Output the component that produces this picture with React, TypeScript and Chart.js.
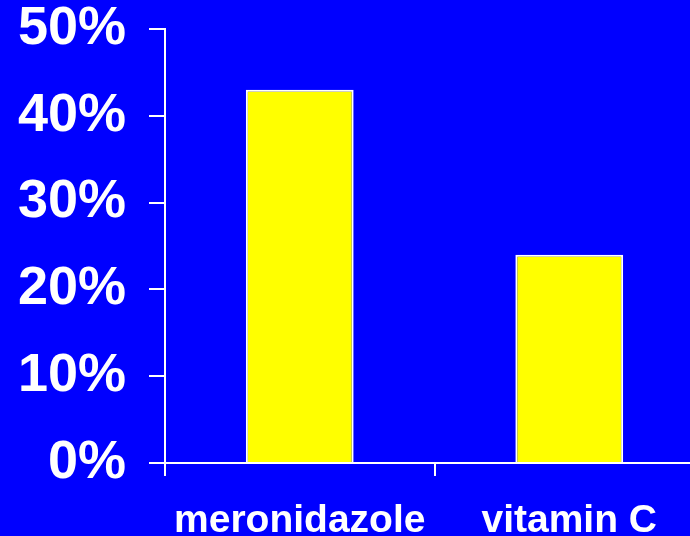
import React, { useEffect, useRef } from "react";
import { Chart, registerables } from "chart.js";

Chart.register(...registerables);

const categories = ["meronidazole", "vitamin C"];
const values = [43, 24];
const yTicks = [0, 10, 20, 30, 40, 50];

export default function App() {
  const ref = useRef<HTMLCanvasElement | null>(null);
  useEffect(() => {
    document.body.style.margin = "0";
    document.body.style.overflow = "hidden";
    const ctx = ref.current!;
    const chart = new Chart(ctx, {
      type: "bar",
      data: {
        labels: categories,
        datasets: [
          {
            data: values,
            backgroundColor: "#FFFF00",
            borderColor: "#FFFFFF",
            borderWidth: 2,
            categoryPercentage: 1,
            barPercentage: 0.4,
          },
        ],
      },
      options: {
        animation: false,
        responsive: false,
        maintainAspectRatio: false,
        layout: { padding: { top: 29, left: 0, right: 0, bottom: 0 } },
        plugins: { legend: { display: false }, tooltip: { enabled: false } },
        scales: {
          y: {
            min: 0,
            max: 50,
            afterBuildTicks: (s: any) => {
              s.ticks = yTicks.map((v) => ({ value: v }));
            },
            afterFit: (s: any) => {
              s.width = 165;
              s.paddingTop = 0;
              s.paddingBottom = 0;
            },
            border: { color: "#FFFFFF", width: 2 },
            grid: {
              drawOnChartArea: false,
              drawTicks: true,
              tickLength: 16,
              color: "#FFFFFF",
              lineWidth: 2,
            },
            ticks: {
              color: "#FFFFFF",
              padding: 23,
              font: { family: "'Liberation Sans', Arial, sans-serif", size: 54, weight: "bold" },
              callback: (v: any) => v + "%",
            },
          },
          x: {
            afterFit: (s: any) => {
              s.height = 73;
              s.paddingLeft = 0;
              s.paddingRight = 0;
            },
            border: { color: "#FFFFFF", width: 2 },
            grid: {
              drawOnChartArea: false,
              drawTicks: true,
              tickLength: 13,
              color: "#FFFFFF",
              lineWidth: 2,
            },
            ticks: {
              color: "#FFFFFF",
              padding: 22,
              maxRotation: 0,
              autoSkip: false,
              font: { family: "'Liberation Sans', Arial, sans-serif", size: 39, weight: "bold" },
            },
          },
        },
      },
    });
    return () => chart.destroy();
  }, []);
  return (
    <div style={{ width: 690, height: 536, overflow: "hidden", background: "#0000FF", position: "relative" }}>
      <canvas ref={ref} width={704} height={536} style={{ display: "block", width: 704, height: 536 }} />
    </div>
  );
}
